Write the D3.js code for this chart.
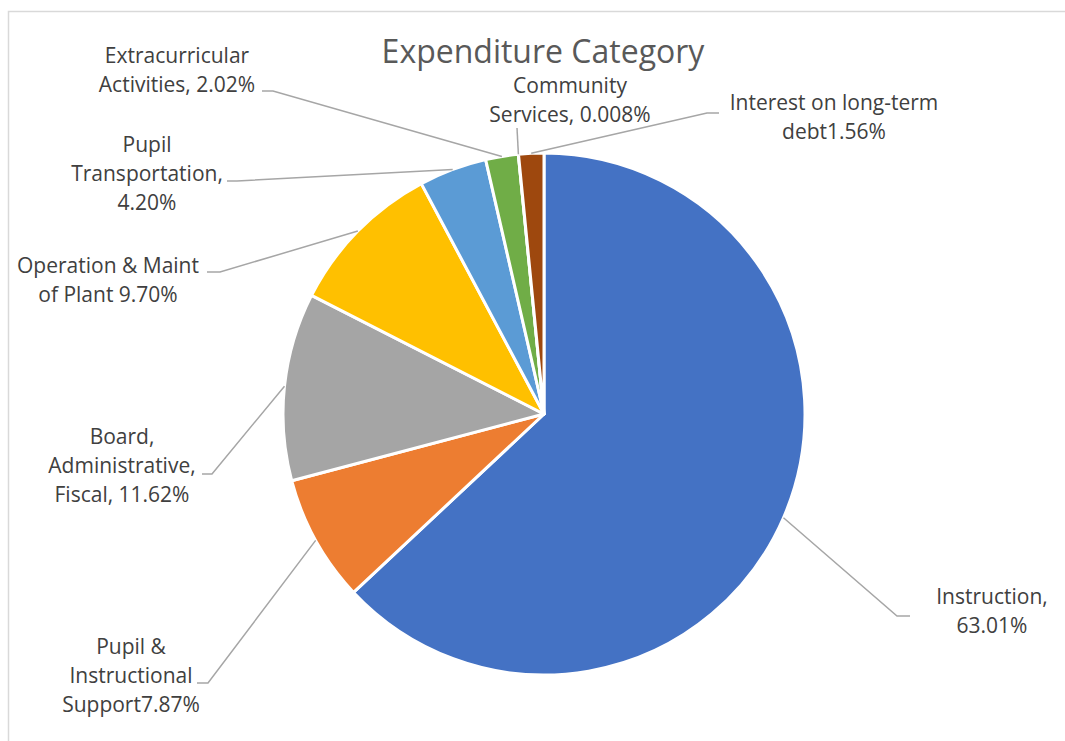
<!DOCTYPE html>
<html lang='en'>
	<head>
		<title>Expenditure Category</title>
		<script type='text/javascript' src='https://cdn.jsdelivr.net/npm/d3@7'></script>
		<style>
			body { margin: 0; background: #fff; }
			text { font-family: 'Open Sans', sans-serif; }
		</style>
	</head>
	<body>
		<svg id='svg' width='1065' height='741'></svg>
		<script type='text/javascript'>
			// data
			var categories = ['Instruction', 'Pupil & Instructional Support', 'Board, Administrative, Fiscal',
				'Operation & Maint of Plant', 'Pupil Transportation', 'Extracurricular Activities',
				'Community Services', 'Interest on long-term debt'];
			var values = [63.01, 7.87, 11.62, 9.70, 4.20, 2.02, 0.008, 1.56];
			var labelText = [
				['Instruction,', '63.01%'],
				['Pupil &', 'Instructional', 'Support7.87%'],
				['Board,', 'Administrative,', 'Fiscal, 11.62%'],
				['Operation & Maint', 'of Plant 9.70%'],
				['Pupil', 'Transportation,', '4.20%'],
				['Extracurricular', 'Activities, 2.02%'],
				['Community', 'Services, 0.008%'],
				['Interest on long-term', 'debt1.56%']
			];
			var colors = ['#4472C4', '#ED7D31', '#A5A5A5', '#FFC000', '#5B9BD5', '#70AD47', '#264478', '#9E480E'];

			// label layout: text centre x, first line y, elbow point, end of tail
			var labelLayout = [
				{x: 992, y: 597, elbow: [897, 616], tail: [910, 616]},
				{x: 131, y: 647, elbow: [208, 683], tail: [197, 683]},
				{x: 122, y: 437, elbow: [212, 474], tail: [202, 474]},
				{x: 108, y: 266, elbow: [220, 272], tail: [207, 272]},
				{x: 147, y: 145, elbow: [237, 181], tail: [227, 181]},
				{x: 177, y: 56,  elbow: [273, 91],  tail: [262, 91]},
				{x: 570, y: 86,  elbow: [517, 128], tail: [517, 128]},
				{x: 834, y: 103, elbow: [707, 113], tail: [719, 113]}
			];

			var svg = d3.select('#svg');
			var cx = 544, cy = 414, r = 261;

			svg.append('rect')
				.attr('x', 8.5).attr('y', 11.5).attr('width', 1100).attr('height', 800)
				.attr('fill', 'none').attr('stroke', '#d9d9d9').attr('stroke-width', 1.5);

			svg.append('text')
				.attr('x', 543).attr('y', 52).attr('dy', '0.35em')
				.attr('text-anchor', 'middle')
				.attr('font-size', 32).attr('fill', '#595959')
				.text('Expenditure Category');

			var pie = d3.pie().sort(null).value(d => d);
			var arcs = pie(values);
			var arc = d3.arc().innerRadius(0).outerRadius(r);
			var edge = d3.arc().innerRadius(r).outerRadius(r);

			var g = svg.append('g').attr('transform', 'translate(' + cx + ',' + cy + ')');
			g.selectAll('path.slice').data(arcs).enter().append('path')
				.attr('class', 'slice')
				.attr('d', arc)
				.attr('fill', (d, i) => colors[i])
				.attr('stroke', '#fff').attr('stroke-width', 3).attr('stroke-linejoin', 'round');

			// leader lines
			svg.selectAll('polyline.leader').data(arcs).enter().append('polyline')
				.attr('class', 'leader')
				.attr('points', function(d, i) {
					var p = edge.centroid(d);
					var L = labelLayout[i];
					return [[cx + p[0], cy + p[1]], L.elbow, L.tail].join(' ');
				})
				.attr('fill', 'none').attr('stroke', '#a6a6a6').attr('stroke-width', 1.5);

			// labels
			var labels = svg.selectAll('text.lbl').data(labelText).enter().append('text')
				.attr('class', 'lbl')
				.attr('text-anchor', 'middle')
				.attr('font-size', 21).attr('fill', '#404040');
			labels.selectAll('tspan').data((d, i) => d.map(s => ({s: s, i: i}))).enter().append('tspan')
				.attr('x', d => labelLayout[d.i].x)
				.attr('y', (d, j) => labelLayout[d.i].y + j * 29)
				.attr('dy', '0.35em')
				.text(d => d.s);
		</script>
	</body>
</html>
